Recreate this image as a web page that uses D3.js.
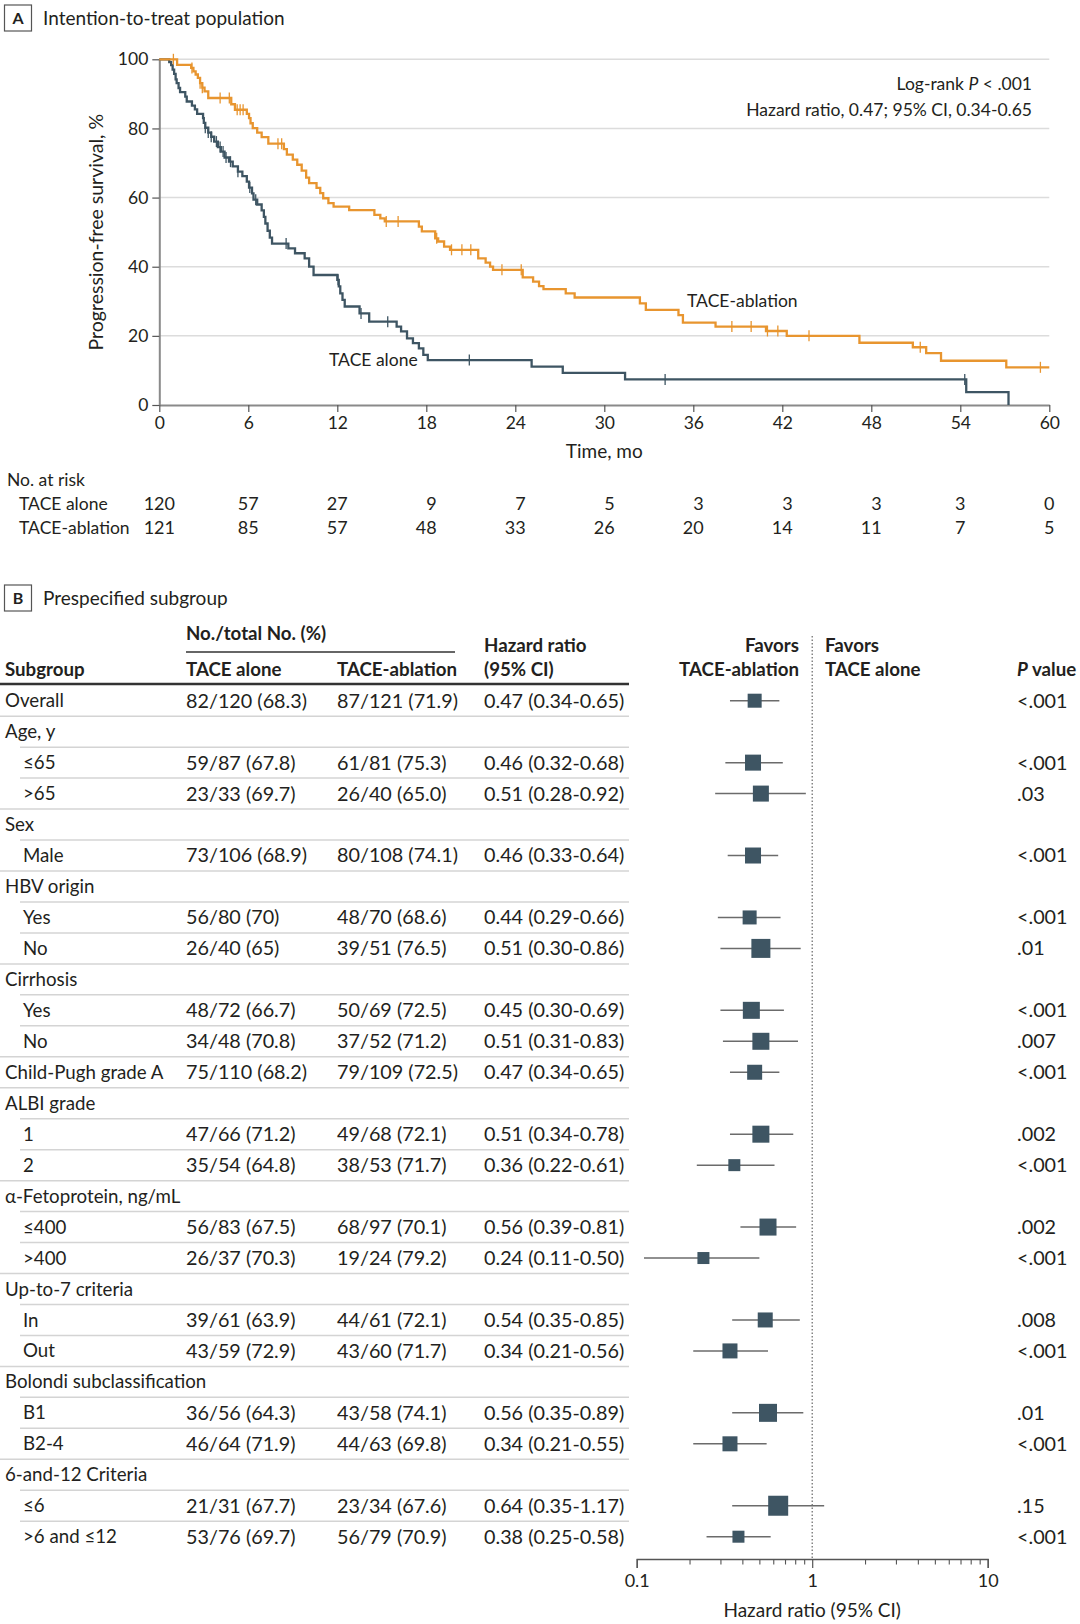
<!DOCTYPE html>
<html>
<head>
<meta charset="utf-8">
<script src="https://cdnjs.cloudflare.com/ajax/libs/d3/7.8.5/d3.min.js"></script>
<style>
  body { margin: 0; background: #fff; }
  text { font-family: Lato, "Open Sans", sans-serif; fill: #231f20; }
</style>
</head>
<body>
<div id="chart"></div>
<script>
// ---------- Panel A data ----------
const monthTicks = [0, 6, 12, 18, 24, 30, 36, 42, 48, 54, 60];
const pfsTicks = [0, 20, 40, 60, 80, 100];

// step points: time (mo) and PFS (%) after each drop
const aloneTime = [0, 0.67, 0.8, 0.9, 1.0, 1.1, 1.17, 1.3, 1.4, 1.75, 1.85, 2.2, 2.4, 2.55, 2.95, 3.0, 3.1, 3.3, 3.5, 3.7,
  3.95, 4.15, 4.4, 4.7, 4.95, 5.3, 5.6, 5.9, 6.05, 6.25, 6.35, 6.6, 6.9, 7.05, 7.15, 7.3, 7.45, 7.6, 8.7, 9.15,
  9.8, 10.1, 10.4, 12.0, 12.1, 12.2, 12.35, 12.5, 13.5, 14.15, 16.0, 16.3, 16.7, 17.1, 17.5, 17.8, 18.1, 25.1, 27.2, 31.4,
  54.4, 57.25];
const aloneSurv = [100, 99.2, 98.3, 97.0, 95.8, 94.2, 93.1, 91.7, 90.5, 89.2, 87.8, 86.6, 85.5, 84.2, 83.0, 81.6, 80.2, 78.8, 77.6, 76.2,
  74.6, 73.3, 71.6, 70.4, 69.0, 67.5, 66.2, 64.6, 62.9, 61.2, 59.4, 58.0, 56.3, 54.4, 52.5, 50.4, 48.4, 46.7, 45.3, 43.9,
  42.4, 40.0, 37.6, 36.2, 34.3, 32.3, 30.4, 28.5, 26.5, 24.1, 22.7, 21.3, 19.3, 17.9, 16.4, 14.5, 13.0, 11.1, 9.3, 7.4,
  3.7, 0];
const aloneCensor = [3.1, 3.3, 3.5, 3.85, 4.1, 4.3, 4.5, 4.8, 5.3, 6.1, 6.5, 8.55, 12.05, 13.6, 15.4, 20.9, 34.1, 54.3];

const ablationTime = [0, 1.2, 2.15, 2.3, 2.45, 2.6, 2.75, 2.9, 3.05, 3.3, 4.85, 5.1, 5.9, 6.05, 6.15, 6.3, 6.6, 6.9, 7.35, 8.4,
  8.6, 9.0, 9.3, 9.6, 9.9, 10.1, 10.6, 10.85, 11.05, 11.4, 11.75, 12.8, 14.5, 14.9, 15.2, 17.5, 17.7, 18.6, 18.8, 19.2,
  19.6, 21.5, 22.0, 22.3, 22.5, 24.5, 25.2, 25.6, 25.9, 27.4, 28.0, 32.4, 32.8, 35.0, 35.3, 37.5, 40.9, 42.3, 47.2, 50.8,
  51.7, 52.7, 57.1];
const ablationSurv = [100, 98.4, 97.5, 96.5, 95.6, 94.6, 93.1, 91.8, 90.7, 88.8, 87.0, 85.4, 84.2, 83.0, 81.5, 80.1, 78.8, 77.5, 75.6, 74.0,
  72.4, 71.0, 69.5, 67.8, 65.8, 64.2, 62.8, 61.3, 59.8, 58.4, 57.4, 56.4, 55.0, 54.0, 53.1, 51.6, 50.2, 48.2, 47.3, 45.8,
  44.9, 42.4, 41.2, 40.0, 39.1, 36.9, 35.7, 34.4, 33.5, 32.3, 31.1, 29.4, 27.5, 26.0, 23.8, 22.7, 21.4, 20.0, 18.0, 16.7,
  15.0, 12.8, 10.9];
const ablationCensor = [0.95, 2.2, 2.75, 2.9, 4.1, 4.72, 5.25, 5.45, 5.65, 8.0, 8.25, 15.3, 16.1, 18.7, 19.7, 20.4, 21.0,
  23.1, 24.4, 38.6, 39.9, 41.0, 41.7, 43.8, 51.3, 59.4];

const riskAlone = [120, 57, 27, 9, 7, 5, 3, 3, 3, 3, 0];
const riskAblation = [121, 85, 57, 48, 33, 26, 20, 14, 11, 7, 5];

// ---------- Panel B data ----------
const subgroups = ["Overall", "Age, y", "≤65", ">65", "Sex", "Male", "HBV origin", "Yes", "No", "Cirrhosis", "Yes", "No",
  "Child-Pugh grade A", "ALBI grade", "1", "2", "α-Fetoprotein, ng/mL", "≤400", ">400", "Up-to-7 criteria", "In", "Out",
  "Bolondi subclassification", "B1", "B2-4", "6-and-12 Criteria", "≤6", ">6 and ≤12"];
const subgroupLevel = [0, 0, 1, 1, 0, 1, 0, 1, 1, 0, 1, 1, 0, 0, 1, 1, 0, 1, 1, 0, 1, 1, 0, 1, 1, 0, 1, 1];
const aloneEvents = ["82/120 (68.3)", null, "59/87 (67.8)", "23/33 (69.7)", null, "73/106 (68.9)", null, "56/80 (70)", "26/40 (65)",
  null, "48/72 (66.7)", "34/48 (70.8)", "75/110 (68.2)", null, "47/66 (71.2)", "35/54 (64.8)", null, "56/83 (67.5)", "26/37 (70.3)",
  null, "39/61 (63.9)", "43/59 (72.9)", null, "36/56 (64.3)", "46/64 (71.9)", null, "21/31 (67.7)", "53/76 (69.7)"];
const ablationEvents = ["87/121 (71.9)", null, "61/81 (75.3)", "26/40 (65.0)", null, "80/108 (74.1)", null, "48/70 (68.6)", "39/51 (76.5)",
  null, "50/69 (72.5)", "37/52 (71.2)", "79/109 (72.5)", null, "49/68 (72.1)", "38/53 (71.7)", null, "68/97 (70.1)", "19/24 (79.2)",
  null, "44/61 (72.1)", "43/60 (71.7)", null, "43/58 (74.1)", "44/63 (69.8)", null, "23/34 (67.6)", "56/79 (70.9)"];
const hr = [0.47, null, 0.46, 0.51, null, 0.46, null, 0.44, 0.51, null, 0.45, 0.51, 0.47, null, 0.51, 0.36, null, 0.56, 0.24,
  null, 0.54, 0.34, null, 0.56, 0.34, null, 0.64, 0.38];
const hrLow = [0.34, null, 0.32, 0.28, null, 0.33, null, 0.29, 0.30, null, 0.30, 0.31, 0.34, null, 0.34, 0.22, null, 0.39, 0.11,
  null, 0.35, 0.21, null, 0.35, 0.21, null, 0.35, 0.25];
const hrHigh = [0.65, null, 0.68, 0.92, null, 0.64, null, 0.66, 0.86, null, 0.69, 0.83, 0.65, null, 0.78, 0.61, null, 0.81, 0.50,
  null, 0.85, 0.56, null, 0.89, 0.55, null, 1.17, 0.58];
const pValues = ["<.001", null, "<.001", ".03", null, "<.001", null, "<.001", ".01", null, "<.001", ".007", "<.001", null, ".002",
  "<.001", null, ".002", "<.001", null, ".008", "<.001", null, ".01", "<.001", null, ".15", "<.001"];
// relative marker weight (box size) as drawn
const boxWeight = [0.70, null, 0.80, 0.80, null, 0.80, null, 0.70, 0.95, null, 0.85, 0.85, 0.75, null, 0.85, 0.60, null, 0.85, 0.60,
  null, 0.75, 0.75, null, 0.90, 0.75, null, 1.00, 0.60];
const hrTicks = [0.1, 1, 10];
const hrMinorTicks = [0.2, 0.3, 0.4, 0.5, 0.6, 0.7, 0.8, 0.9, 2, 3, 4, 5, 6, 7, 8, 9];

// ---------- layout ----------
const width = 1080, height = 1624;
const orange = "#e8952f", slate = "#3e5563";
const fontSize = 18.7;     // labels
const numSize = 19.8;      // numeric table cells
const axisSize = 17.5;

const svg = d3.select("#chart").append("svg")
  .attr("width", width)
  .attr("height", height);

svg.append("rect").attr("width", width).attr("height", height).attr("fill", "#fff");

// panel letter box + title
function panelTitle(letter, y, title) {
  svg.append("rect")
    .attr("x", 4.5).attr("y", y - 13)
    .attr("width", 27).attr("height", 26)
    .attr("fill", "#fff").attr("stroke", "#555").attr("stroke-width", 1.2);
  svg.append("text")
    .attr("x", 18).attr("y", y).attr("dy", ".35em")
    .attr("text-anchor", "middle")
    .style("font-weight", "bold").style("font-size", "16px")
    .text(letter);
  svg.append("text")
    .attr("x", 43).attr("y", y).attr("dy", ".35em")
    .style("font-size", "19px")
    .text(title);
}

panelTitle("A", 18, "Intention-to-treat population");
panelTitle("B", 598, "Prespecified subgroup");

// ========== Panel A: Kaplan-Meier ==========
const x = d3.scaleLinear().domain([0, 60]).range([159.3, 1049.3]);
const y = d3.scaleLinear().domain([0, 100]).range([405, 59.3]);

const km = svg.append("g");

// gridlines
km.selectAll("line.grid")
  .data(pfsTicks.filter(d => d > 0))
  .enter()
  .append("line")
  .attr("class", "grid")
  .attr("x1", x(0)).attr("x2", x(60))
  .attr("y1", d => y(d)).attr("y2", d => y(d))
  .attr("stroke", "#dcdcdc").attr("stroke-width", 1.5);

// axes
const yAxis = km.append("g")
  .attr("transform", `translate(${x(0)},0)`)
  .call(d3.axisLeft(y).tickValues(pfsTicks).tickSize(7).tickSizeOuter(0).tickPadding(4));
const xAxis = km.append("g")
  .attr("transform", `translate(0,${y(0)})`)
  .call(d3.axisBottom(x).tickValues(monthTicks).tickSize(7).tickSizeOuter(0).tickPadding(5));

[xAxis, yAxis].forEach(a => {
  a.select(".domain").attr("stroke", "#8a8a8a").attr("stroke-width", 2);
  a.selectAll(".tick line").attr("stroke", "#555").attr("stroke-width", 1.2);
  a.selectAll(".tick text").style("font-size", axisSize + "px").style("font-family", "Lato, sans-serif").attr("fill", "#231f20");
});

km.append("text")
  .attr("transform", `translate(96,${(y(0) + y(100)) / 2}) rotate(-90)`)
  .attr("dy", ".35em")
  .attr("text-anchor", "middle")
  .style("font-size", "19.5px")
  .text("Progression-free survival, %");

km.append("text")
  .attr("x", (x(0) + x(60)) / 2).attr("y", 451).attr("dy", ".35em")
  .attr("text-anchor", "middle")
  .style("font-size", "19px")
  .text("Time, mo");

// curves
const stepLine = d3.line()
  .x(d => x(d[0]))
  .y(d => y(d[1]))
  .curve(d3.curveStepAfter);

function survAt(times, surv, t) {
  const i = d3.bisectRight(times, t) - 1;
  return surv[Math.max(i, 0)];
}

function drawCurve(times, surv, censor, endTime, color) {
  const pts = times.map((t, i) => [t, surv[i]]);
  if (endTime > times[times.length - 1]) pts.push([endTime, surv[surv.length - 1]]);
  km.append("path")
    .datum(pts)
    .attr("d", stepLine)
    .attr("fill", "none")
    .attr("stroke", color)
    .attr("stroke-width", 2.3);

  km.selectAll(null)
    .data(censor)
    .enter()
    .append("line")
    .attr("x1", d => x(d)).attr("x2", d => x(d))
    .attr("y1", d => y(survAt(times, surv, d)) - 5.5)
    .attr("y2", d => y(survAt(times, surv, d)) + 5.5)
    .attr("stroke", color)
    .attr("stroke-width", 1.3);
}

drawCurve(aloneTime, aloneSurv, aloneCensor, 57.25, slate);
drawCurve(ablationTime, ablationSurv, ablationCensor, 60, orange);

// curve labels
km.append("text")
  .attr("x", 687).attr("y", 301).attr("dy", ".35em")
  .style("font-size", axisSize + "px")
  .text("TACE-ablation");
km.append("text")
  .attr("x", 329).attr("y", 360).attr("dy", ".35em")
  .style("font-size", axisSize + "px")
  .text("TACE alone");

// log-rank annotation
const ann = km.append("text")
  .attr("x", 1032).attr("y", 84).attr("dy", ".35em")
  .attr("text-anchor", "end")
  .style("font-size", axisSize + "px");
ann.append("tspan").text("Log-rank ");
ann.append("tspan").style("font-style", "italic").text("P");
ann.append("tspan").text(" < .001");
km.append("text")
  .attr("x", 1032).attr("y", 110).attr("dy", ".35em")
  .attr("text-anchor", "end")
  .style("font-size", axisSize + "px")
  .text("Hazard ratio, 0.47; 95% CI, 0.34-0.65");

// number at risk
const risk = svg.append("g");
risk.append("text")
  .attr("x", 7).attr("y", 480).attr("dy", ".35em")
  .style("font-size", axisSize + "px")
  .text("No. at risk");

[["TACE alone", riskAlone, 504], ["TACE-ablation", riskAblation, 528]].forEach(([label, counts, ry]) => {
  risk.append("text")
    .attr("x", 19).attr("y", ry).attr("dy", ".35em")
    .style("font-size", axisSize + "px")
    .text(label);
  risk.selectAll(null)
    .data(counts)
    .enter()
    .append("text")
    .attr("class", "riskNum")
    .attr("data-col", (d, i) => i)
    .attr("x", (d, i) => x(monthTicks[i]))
    .attr("y", ry).attr("dy", ".35em")
    .attr("text-anchor", "end")
    .style("font-size", "18px")
    .text(d => d);
});

// right-align each column around its tick
monthTicks.forEach((t, i) => {
  const col = risk.selectAll(`text.riskNum[data-col="${i}"]`);
  const w = d3.max(col.nodes(), n => n.getComputedTextLength());
  col.attr("x", x(t) + w / 2);
});

// ========== Panel B: forest plot ==========
const rowY = d3.scalePoint().domain(d3.range(subgroups.length)).range([700.7, 1536.7]);
const fx = d3.scaleLog().domain([0.1, 10]).range([636.7, 987.7]);
const boxScale = d3.scaleLinear().domain([0, 1]).range([0, 20]);

const col = { sub: 5, subIndent: 23, alone: 186, ablation: 337, hr: 484, p: 1017, tableEnd: 629 };
const fp = svg.append("g");

function headText(tx, ty, str, anchor) {
  return fp.append("text")
    .attr("x", tx).attr("y", ty).attr("dy", ".35em")
    .attr("text-anchor", anchor || "start")
    .style("font-size", fontSize + "px")
    .style("font-weight", "bold")
    .text(str);
}

headText(col.alone, 633, "No./total No. (%)");
fp.append("line")
  .attr("x1", col.alone).attr("x2", 455)
  .attr("y1", 652).attr("y2", 652)
  .attr("stroke", "#333").attr("stroke-width", 1.5);
headText(col.sub, 669, "Subgroup");
headText(col.alone, 669, "TACE alone");
headText(col.ablation, 669, "TACE-ablation");
headText(col.hr, 645, "Hazard ratio");
headText(col.hr, 669, "(95% CI)");
headText(799, 645, "Favors", "end");
headText(799, 669, "TACE-ablation", "end");
headText(825, 645, "Favors");
headText(825, 669, "TACE alone");
const pHead = headText(col.p, 669, "");
pHead.append("tspan").style("font-style", "italic").text("P");
pHead.append("tspan").text(" value");

fp.append("line")
  .attr("x1", 0).attr("x2", col.tableEnd)
  .attr("y1", 684).attr("y2", 684)
  .attr("stroke", "#333").attr("stroke-width", 2.5);

// row separators
const step = rowY.step();
fp.selectAll("line.sep")
  .data(d3.range(subgroups.length - 1))
  .enter()
  .append("line")
  .attr("class", "sep")
  .attr("x1", i => subgroupLevel[i + 1] === 1 ? 20 : 0)
  .attr("x2", col.tableEnd)
  .attr("y1", i => rowY(i) + step / 2)
  .attr("y2", i => rowY(i) + step / 2)
  .attr("stroke", "#d4d4d4").attr("stroke-width", 1.5);

// reference line at HR = 1
fp.append("line")
  .attr("x1", fx(1)).attr("x2", fx(1))
  .attr("y1", 636).attr("y2", 1559)
  .attr("stroke", "#666").attr("stroke-width", 1.2)
  .attr("stroke-dasharray", "1.5,2");

// table text
const rows = fp.selectAll("g.row")
  .data(d3.range(subgroups.length))
  .enter()
  .append("g")
  .attr("class", "row")
  .attr("transform", i => `translate(0,${rowY(i)})`);

function cell(sel, tx, accessor) {
  sel.append("text")
    .attr("x", tx).attr("dy", ".35em")
    .style("font-size", numSize + "px")
    .text(accessor);
}

rows.append("text")
  .attr("x", i => subgroupLevel[i] ? col.subIndent : col.sub)
  .attr("dy", ".35em")
  .style("font-size", fontSize + "px")
  .text(i => subgroups[i]);
cell(rows, col.alone, i => aloneEvents[i] || "");
cell(rows, col.ablation, i => ablationEvents[i] || "");
cell(rows, col.hr, i => hr[i] == null ? "" : `${hr[i].toFixed(2)} (${hrLow[i].toFixed(2)}-${hrHigh[i].toFixed(2)})`);
cell(rows, col.p, i => pValues[i] || "");

// CIs and boxes
const est = rows.filter(i => hr[i] != null);
est.append("line")
  .attr("x1", i => fx(hrLow[i])).attr("x2", i => fx(hrHigh[i]))
  .attr("stroke", "#6b6b6b").attr("stroke-width", 1.5);
est.append("rect")
  .attr("x", i => fx(hr[i]) - boxScale(boxWeight[i]) / 2)
  .attr("y", i => -boxScale(boxWeight[i]) / 2)
  .attr("width", i => boxScale(boxWeight[i]))
  .attr("height", i => boxScale(boxWeight[i]))
  .attr("fill", slate);

// log axis
const fAxis = fp.append("g")
  .attr("transform", "translate(0,1559)")
  .call(d3.axisBottom(fx).tickValues(hrTicks).tickFormat(d3.format("")).tickSize(9).tickPadding(6));
fp.append("g")
  .attr("transform", "translate(0,1559)")
  .call(d3.axisBottom(fx).tickValues(hrMinorTicks).tickFormat("").tickSize(5.5))
  .call(g => g.select(".domain").remove())
  .selectAll(".tick line").attr("stroke", "#555").attr("stroke-width", 1.1);
fAxis.select(".domain").attr("stroke", "#555").attr("stroke-width", 1.3);
fAxis.selectAll(".tick line").attr("stroke", "#555").attr("stroke-width", 1.2);
fAxis.selectAll(".tick text").style("font-size", "18px").style("font-family", "Lato, sans-serif").attr("fill", "#231f20");

fp.append("text")
  .attr("x", fx(1)).attr("y", 1610).attr("dy", ".35em")
  .attr("text-anchor", "middle")
  .style("font-size", "19px")
  .text("Hazard ratio (95% CI)");
</script>
</body>
</html>
